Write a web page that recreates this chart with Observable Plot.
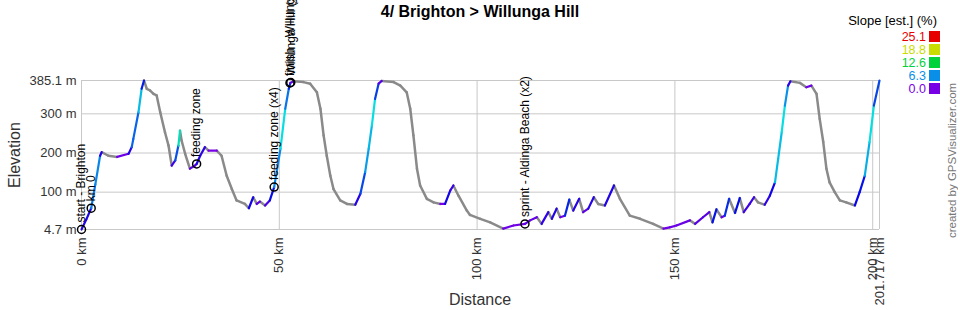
<!DOCTYPE html>
<html>
<head>
<meta charset="utf-8">
<script src="https://cdn.jsdelivr.net/npm/d3@7"></script>
<script src="https://cdn.jsdelivr.net/npm/@observablehq/plot@0.6"></script>
<style>
  body { margin: 0; background: #fff; font-family: Arial, "Liberation Sans", sans-serif; }
  #wrap { position: relative; width: 960px; height: 310px; overflow: hidden; background: #fff; }
  #chart { position: absolute; left: 0; top: 0; }
  .abs { position: absolute; white-space: nowrap; }
  .title { top: 3px; left: 0; width: 960px; text-align: center; font-weight: bold; font-size: 16px; line-height: 18px; color: #000; }
  .xlabel { top: 291px; left: 0; width: 960px; text-align: center; font-size: 16px; line-height: 18px; color: #333; }
  .vert { writing-mode: vertical-rl; transform: rotate(180deg); }
  .ylabel { left: 6px; top: 100px; width: 18px; height: 110px; text-align: center; font-size: 16px; line-height: 18px; color: #333; }
  .credit { left: 945px; top: 80px; width: 14px; height: 158px; text-align: start; font-size: 11.5px; line-height: 14px; color: #777; }
  .legtitle { top: 13px; right: 23px; font-size: 13px; line-height: 15px; color: #000; }
  .legval { right: 34px; font-size: 12.5px; line-height: 12px; height: 12px; text-align: right; }
  .legsq { left: 929px; width: 11px; height: 11px; }
</style>
</head>
<body>
<div id="wrap">
  <div id="chart"></div>
  <div class="abs title">4/ Brighton &gt; Willunga Hill</div>
  <div class="abs xlabel">Distance</div>
  <div class="abs vert ylabel">Elevation</div>
  <div class="abs vert credit">created by GPSVisualizer.com</div>
  <div class="abs legtitle">Slope [est.] (%)</div>
</div>
<script>
// ---- data ----
const distKm = [0, 1.2, 2.45, 3.5, 4.7, 5.1, 6.8, 9.0, 11.9, 12.7, 13.1, 14.4, 15.2, 15.8, 16.5, 17.3, 18.2, 19.0, 19.9, 21.1,
  22.0, 22.8, 23.7, 24.5, 24.9, 25.3, 26.2, 27.4, 28.7, 29.1, 30.0, 31.2, 32.1, 34.2, 35.4, 36.7, 38.0, 39.2, 41.3, 42.3,
  43.4, 44.3, 45.1, 46.4, 47.6, 48.7, 50.3, 51.5, 52.4, 52.8, 53.6, 56.1, 57.8, 59.5, 60.4, 61.2, 62.0, 62.9, 63.7, 65.4,
  67.1, 69.2, 70.5, 71.7, 72.6, 73.4, 74.2, 75.1, 75.9, 78.9, 80.6, 82.2, 83.1, 83.9, 84.8, 85.6, 87.3, 89.0, 90.7, 91.9,
  93.2, 94.0, 95.3, 97.4, 98.2, 100.8, 103.3, 106.6, 109.2, 112.1, 113.4, 115.1, 116.3, 118.0, 118.9, 120.1, 121.0, 122.2, 123.3, 124.3,
  125.8, 126.8, 128.1, 129.5, 130.6, 132.3, 134.6, 136.1, 138.6, 141.2, 144.5, 147.1, 148.7, 150.4, 153.8, 155.1, 157.1, 158.7, 159.5, 160.5,
  161.8, 162.6, 163.7, 165.2, 166.4, 167.4, 168.9, 170.0, 171.0, 172.7, 174.0, 175.3, 176.1, 177.0, 177.8, 178.6, 179.2, 181.6, 183.2, 184.5,
  185.8, 186.6, 187.5, 188.3, 189.1, 190.4, 191.7, 193.3, 195.5, 196.7, 198.0, 199.2, 200.3, 201.717];
const elevM = [4.7, 30, 59, 120, 193, 202, 193, 190, 198, 215, 236, 304, 364, 385, 364, 360, 351, 347, 304, 253,
  219, 168, 181, 219, 257, 232, 198, 160, 168, 172, 193, 215, 206, 206, 193, 142, 108, 79, 70, 59,
  87, 70, 76, 66, 79, 113, 211, 313, 364, 379, 383, 381, 377, 355, 313, 245, 193, 142, 108, 79,
  70, 68, 96, 151, 211, 270, 338, 377, 384, 381, 372, 355, 313, 245, 160, 117, 83, 74, 70, 70,
  104, 117, 91, 53, 42, 32, 23, 7, 15, 19, 28, 36, 19, 49, 32, 58, 36, 40, 81, 53,
  83, 49, 58, 87, 70, 66, 117, 83, 40, 32, 19, 7, 10, 15, 28, 19, 36, 49, 23, 56,
  36, 40, 83, 47, 85, 49, 70, 87, 74, 68, 91, 125, 185, 253, 321, 372, 383, 379, 368, 372,
  351, 287, 228, 160, 125, 100, 79, 74, 66, 100, 142, 228, 321, 385.1];

const wpNames = ["start - Brighton", "km 0", "feeding zone", "feeding zone (x4)", "finish - Willunga Hill", "Willunga Hill (x3)", "sprint - Aldinga Beach (x2)"];
const wpDist = [0, 2.45, 29.1, 48.7, 52.7, 52.9, 112.1];
const wpElev = [4.7, 59, 172, 113, 379, 380, 19];

const xTicks = [0, 50, 100, 150, 200, 201.717];
const yTicks = [4.7, 100, 200, 300, 385.1];

const slopeStops = [0, 6.3, 12.6, 18.8, 25.1];
const slopeColors = ["#7800e6", "#0a8fe8", "#00d23c", "#c8dc00", "#e60000"];

// ---- derived tables ----
const segs = d3.range(distKm.length - 1).map(i => ({
  x1: distKm[i], y1: elevM[i], x2: distKm[i + 1], y2: elevM[i + 1],
  slope: (elevM[i + 1] - elevM[i]) / ((distKm[i + 1] - distKm[i]) * 1000) * 100
}));
const up = segs.filter(s => s.slope >= 0);
const down = segs.filter(s => s.slope < 0);
const wps = wpNames.map((n, i) => ({name: n, x: wpDist[i], y: wpElev[i]}));

const chart = Plot.plot({
  width: 960,
  height: 310,
  marginLeft: 81,
  marginRight: 81,
  marginTop: 80,
  marginBottom: 81,
  style: {fontFamily: "Arial, 'Liberation Sans', sans-serif", fontSize: "13px", color: "#333", background: "transparent"},
  x: {domain: [0, 201.717], ticks: xTicks, tickFormat: d => `${d} km`, tickRotate: -90, tickSize: 0, tickPadding: 8, label: null},
  y: {domain: [4.7, 385.1], ticks: yTicks, tickFormat: d => `${d} m`, tickSize: 0, tickPadding: 5, label: null},
  color: {type: "linear", domain: slopeStops, range: slopeColors, interpolate: "hsl", clamp: true},
  marks: [
    Plot.ruleX(xTicks, {stroke: "#c8c8c8", strokeWidth: 1}),
    Plot.ruleY(yTicks, {stroke: "#c8c8c8", strokeWidth: 1}),
    Plot.link(down, {x1: "x1", y1: "y1", x2: "x2", y2: "y2", stroke: "#8a8a8a", strokeWidth: 2.5, strokeLinecap: "round"}),
    Plot.link(up, {x1: "x1", y1: "y1", x2: "x2", y2: "y2", stroke: "slope", strokeWidth: 2.2, strokeLinecap: "round"}),
    Plot.dot(wps, {x: "x", y: "y", r: 4, stroke: "#000", strokeWidth: 1.5, fill: "none"}),
    Plot.text(wps, {x: "x", y: "y", text: "name", rotate: -90, textAnchor: "start", lineAnchor: "middle", dy: -7, fontSize: 12, fill: "#000"})
  ]
});
document.getElementById("chart").appendChild(chart);

// legend from arrays (top value first)
const wrap = document.getElementById("wrap");
slopeStops.slice().reverse().forEach((v, i) => {
  const c = slopeColors[slopeStops.length - 1 - i];
  const top = 30.5 + i * 13;
  const t = document.createElement("div");
  t.className = "abs legval";
  t.style.top = top + "px";
  t.style.color = c;
  t.textContent = v.toFixed(1);
  wrap.appendChild(t);
  const s = document.createElement("div");
  s.className = "abs legsq";
  s.style.top = (top + 0.5) + "px";
  s.style.background = c;
  wrap.appendChild(s);
});
</script>
</body>
</html>
